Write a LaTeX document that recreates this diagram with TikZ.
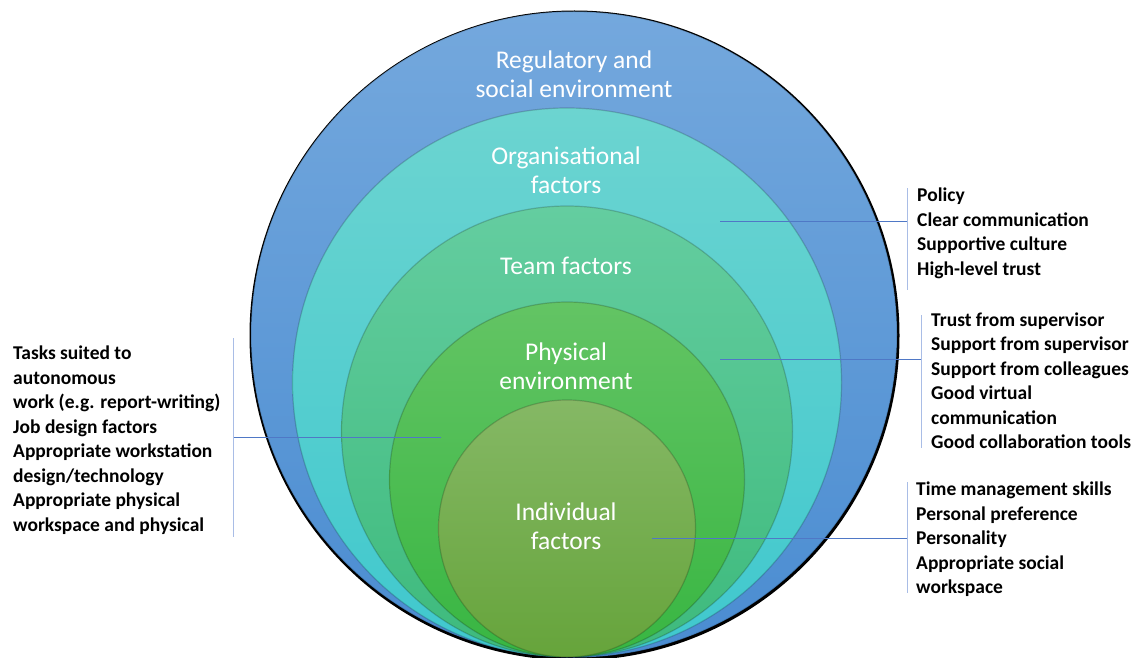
\documentclass[tikz,border=0pt]{standalone}
\usepackage{fontspec}
\setmainfont{Carlito}
\usetikzlibrary{positioning}

% ring colours (top / bottom of each gradient)
\definecolor{regtop}{HTML}{74A8DD}
\definecolor{regbot}{HTML}{4A8CD1}
\definecolor{orgtop}{HTML}{6CD4D0}
\definecolor{orgbot}{HTML}{3FC8CE}
\definecolor{teamtop}{HTML}{64CDA0}
\definecolor{teambot}{HTML}{3DBA7C}
\definecolor{phystop}{HTML}{63C464}
\definecolor{physbot}{HTML}{38B642}
\definecolor{indtop}{HTML}{85B865}
\definecolor{indbot}{HTML}{66A43B}
\definecolor{leaderblue}{HTML}{4F78C6}
\definecolor{bracketblue}{HTML}{A9BDE6}

\tikzset{
    ring/.style={circle, inner sep=0pt, outer sep=0pt, draw=black, draw opacity=0.18, line width=1.2pt},
    ringlabel/.style={text=white, align=center, inner sep=0pt, font=\fontsize{25.5}{29}\selectfont},
    itemlist/.style={align=left, anchor=west, inner sep=0pt, font=\bfseries\fontsize{19.5}{24.5}\selectfont},
    leader/.style={draw=leaderblue, line width=1pt},
    bracket/.style={draw=bracketblue, line width=1pt}
}

\begin{document}
\begin{tikzpicture}[x=1pt, y=-1pt]
    \useasboundingbox (0,0) rectangle (1138,658);

    % Draw the nested rings, all touching at the bottom
    \node[circle, fill=black, minimum size=650pt, inner sep=0pt] (rim) at (574.5,335.5) {};
    \foreach \name/\cx/\cy/\d in {reg/574/334.5/646, org/567/382.5/549, team/567/431.5/451,
                                  phys/567/479.5/355, ind/567/528.5/257} {
        \node[ring, minimum size=\d pt, top color=\name top, bottom color=\name bot] (\name) at (\cx,\cy) {};
    }

    % Ring labels
    \node[ringlabel] (regtext) at (574,74.5) {Regulatory and\\social environment};
    \node[ringlabel] (orgtext) at (566,170.5) {Organisational\\factors};
    \node[ringlabel] (teamtext) at (566,266) {Team factors};
    \node[ringlabel] (phystext) at (566,366) {Physical\\environment};
    \node[ringlabel] (indtext) at (566,526.5) {Individual\\factors};

    % Lists beside the rings
    \node[itemlist] (orglist) at (917,233.5) {Policy\\Clear communication\\Supportive culture\\High-level trust};
    \node[itemlist] (teamlist) at (931,380.5) {Trust from supervisor\\Support from supervisor\\Support from colleagues\\Good virtual\\communication\\Good collaboration tools};
    \node[itemlist] (indlist) at (916,539.5) {Time management skills\\Personal preference\\Personality\\Appropriate social\\workspace};
    \node[itemlist] (physlist) at (13,440) {Tasks suited to\\autonomous\\work (e.g. report-writing)\\Job design factors\\Appropriate workstation\\design/technology\\Appropriate physical\\workspace and physical};

    % Leader lines and brackets
    \coordinate (orgpt) at (720,221);
    \coordinate (orgjoin) at (907,221);
    \coordinate (orgtop) at (907,188);
    \coordinate (orgbot) at (907,290);
    \draw[leader] (orgpt) -- (orgjoin);
    \draw[bracket] (orgtop) -- (orgbot);

    \coordinate (teampt) at (720,359);
    \coordinate (teamjoin) at (921,359);
    \coordinate (teamtop) at (921,315);
    \coordinate (teambot) at (921,448);
    \draw[leader] (teampt) -- (teamjoin);
    \draw[bracket] (teamtop) -- (teambot);

    \coordinate (indpt) at (652,538);
    \coordinate (indjoin) at (907,538);
    \coordinate (indtop) at (907,482);
    \coordinate (indbot) at (907,593);
    \draw[leader] (indpt) -- (indjoin);
    \draw[bracket] (indtop) -- (indbot);

    \coordinate (physpt) at (441,437);
    \coordinate (physjoin) at (233,437);
    \coordinate (phystop) at (233,338);
    \coordinate (physbot) at (233,537);
    \draw[leader] (physpt) -- (physjoin);
    \draw[bracket] (phystop) -- (physbot);
\end{tikzpicture}
\end{document}
